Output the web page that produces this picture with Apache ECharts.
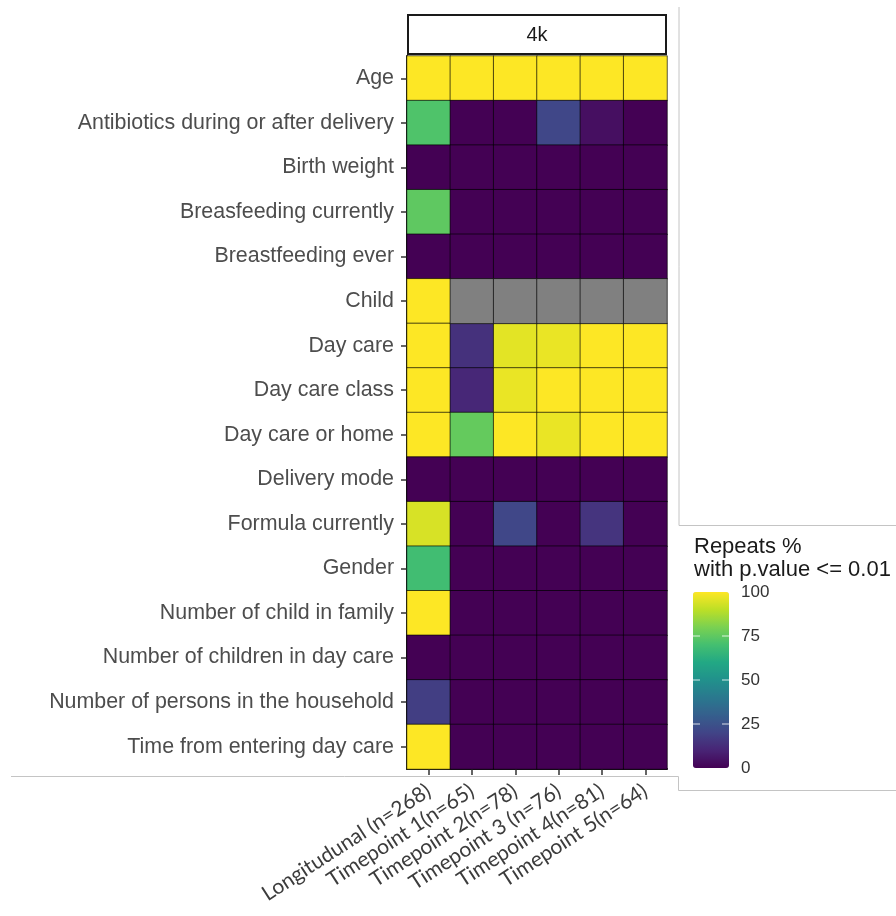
<!DOCTYPE html>
<html>
<head>
<meta charset="utf-8">
<script src="https://cdn.jsdelivr.net/npm/echarts@6/dist/echarts.min.js"></script>
<style>
  html, body { margin: 0; padding: 0; background: #ffffff; }
  #chart { width: 896px; height: 916px; }
</style>
</head>
<body>
<div id="chart"></div>
<script>
// Covariates (rows, top to bottom)
const covariates = [
  'Age',
  'Antibiotics during or after delivery',
  'Birth weight',
  'Breasfeeding currently',
  'Breastfeeding ever',
  'Child',
  'Day care',
  'Day care class',
  'Day care or home',
  'Delivery mode',
  'Formula currently',
  'Gender',
  'Number of child in family',
  'Number of children in day care',
  'Number of persons in the household',
  'Time from entering day care'
];

// Analyses (columns)
const analyses = [
  'Longitudunal (n=268)',
  'Timepoint 1(n=65)',
  'Timepoint 2(n=78)',
  'Timepoint 3 (n=76)',
  'Timepoint 4(n=81)',
  'Timepoint 5(n=64)'
];

// Repeats % with p.value <= 0.01, one array per analysis; null = not tested
const longitudinal = [100, 72, 0, 75, 0, 100, 100, 100, 100, 0, 94, 69, 100, 0, 18, 100];
const timepoint1   = [100, 0, 0, 0, 0, null, 14, 11, 76, 0, 0, 0, 0, 0, 0, 0];
const timepoint2   = [100, 0, 0, 0, 0, null, 96, 97, 100, 0, 21, 0, 0, 0, 0, 0];
const timepoint3   = [100, 21, 0, 0, 0, null, 97, 100, 97, 0, 0, 0, 0, 0, 0, 0];
const timepoint4   = [100, 4, 0, 0, 0, null, 100, 100, 100, 0, 15, 0, 0, 0, 0, 0];
const timepoint5   = [100, 0, 0, 0, 0, null, 100, 100, 100, 0, 0, 0, 0, 0, 0, 0];

// Colour bar tick labels
const legendTicks = [0, 25, 50, 75, 100];

const columns = [longitudinal, timepoint1, timepoint2, timepoint3, timepoint4, timepoint5];

const viridis = ['#440154', '#482475', '#414487', '#355f8d', '#2a788e', '#21918c',
                 '#22a884', '#44bf70', '#7ad151', '#bddf26', '#fde725'];

const cells = [];
const missing = [];
columns.forEach((col, x) => {
  col.forEach((v, y) => {
    if (v === null) missing.push([x, y, 0]);
    else cells.push([x, y, v]);
  });
});

// Panel geometry
const gridLeft = 407, gridTop = 56, gridW = 260, gridH = 713;
// Colour bar geometry
const barLeft = 693, barTop = 592, barW = 36, barH = 176;

const frame = '#c4c4c4';
const graphics = [
  // facet strip
  { type: 'rect', shape: { x: 408, y: 15, width: 258, height: 39 },
    style: { fill: '#ffffff', stroke: '#1a1a1a', lineWidth: 2 } },
  { type: 'text', x: 537, y: 35,
    style: { text: '4k', font: '20px "Liberation Sans", Arial, sans-serif', fill: '#1a1a1a',
             align: 'center', verticalAlign: 'middle' } },
  // legend title
  { type: 'text', x: 694, y: 535,
    style: { text: 'Repeats %\nwith p.value <= 0.01', font: '22px "Liberation Sans", Arial, sans-serif',
             fill: '#1a1a1a', lineHeight: 23, align: 'left', verticalAlign: 'top' } },
  // thin frame lines around the panels
  { type: 'polyline', shape: { points: [[679, 7], [679, 525.5], [896, 525.5]] },
    style: { stroke: frame, lineWidth: 1, fill: null } },
  { type: 'polyline', shape: { points: [[11, 776.5], [678.5, 776.5], [678.5, 790.5], [896, 790.5]] },
    style: { stroke: frame, lineWidth: 1, fill: null } }
];

legendTicks.forEach(t => {
  const y = barTop + barH - (t / 100) * barH;
  graphics.push({ type: 'text', x: 741, y: y,
    style: { text: String(t), font: '17px "Liberation Sans", Arial, sans-serif', fill: '#333333',
             align: 'left', verticalAlign: 'middle' } });
  if (t > 0 && t < 100) {
    graphics.push({ type: 'line', shape: { x1: barLeft, y1: y, x2: barLeft + 7, y2: y },
      style: { stroke: 'rgba(255,255,255,0.8)', lineWidth: 1 }, z: 100 });
    graphics.push({ type: 'line', shape: { x1: barLeft + barW - 7, y1: y, x2: barLeft + barW, y2: y },
      style: { stroke: 'rgba(255,255,255,0.8)', lineWidth: 1 }, z: 100 });
  }
});

const chart = echarts.init(document.getElementById('chart'), null, { renderer: 'canvas' });
chart.setOption({
  backgroundColor: '#ffffff',
  animation: false,
  grid: { left: gridLeft, top: gridTop, width: gridW, height: gridH, containLabel: false },
  xAxis: {
    type: 'category',
    data: analyses,
    axisLine: { show: true, lineStyle: { color: '#1a1a1a', width: 2 } },
    axisTick: { show: true, alignWithLabel: true, length: 6, lineStyle: { color: '#333333', width: 1.5 } },
    axisLabel: { rotate: 33, margin: 20, interval: 0, color: '#3c3c3c',
                 fontFamily: 'Lato, "Open Sans", sans-serif', fontSize: 21 },
    splitLine: { show: false }
  },
  yAxis: {
    type: 'category',
    data: covariates,
    inverse: true,
    axisLine: { show: true, lineStyle: { color: '#1a1a1a', width: 2 } },
    axisTick: { show: true, alignWithLabel: true, length: 6, lineStyle: { color: '#333333', width: 1.5 } },
    axisLabel: { margin: 13, interval: 0, color: '#4d4d4d',
                 fontFamily: '"Liberation Sans", Arial, sans-serif', fontSize: 21.4 },
    splitLine: { show: false }
  },
  visualMap: {
    type: 'continuous',
    seriesIndex: 0,
    min: 0, max: 100,
    calculable: false,
    realtime: false,
    left: barLeft, top: barTop,
    itemWidth: barW, itemHeight: barH,
    padding: 0,
    text: null,
    showLabel: false,
    inRange: { color: viridis },
    hoverLink: false
  },
  series: [
    {
      type: 'heatmap',
      data: cells,
      itemStyle: { borderColor: 'rgba(0,0,0,0.65)', borderWidth: 1 },
      emphasis: { disabled: true }
    },
    {
      type: 'heatmap',
      data: missing,
      itemStyle: { color: '#808080', borderColor: 'rgba(0,0,0,0.65)', borderWidth: 1 },
      emphasis: { disabled: true }
    }
  ],
  graphic: graphics
});
</script>
</body>
</html>
